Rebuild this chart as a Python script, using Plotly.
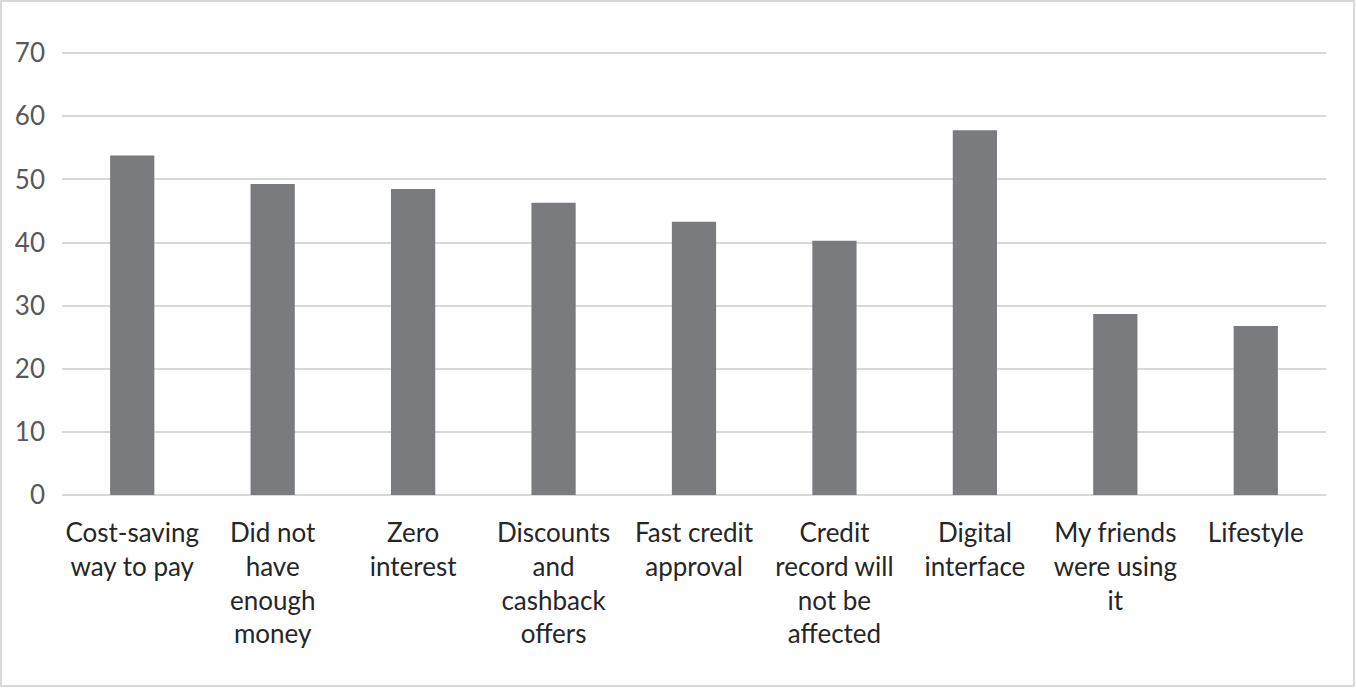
import plotly.graph_objects as go

# reasons for using the service (x labels) and share of respondents
reasons = [
    "Cost-saving<br>way to pay",
    "Did not<br>have<br>enough<br>money",
    "Zero<br>interest",
    "Discounts<br>and<br>cashback<br>offers",
    "Fast credit<br>approval",
    "Credit<br>record will<br>not be<br>affected",
    "Digital<br>interface",
    "My friends<br>were using<br>it",
    "Lifestyle",
]
values = [53.8, 49.3, 48.5, 46.3, 43.3, 40.3, 57.8, 28.7, 26.8]
y_ticks = [0, 10, 20, 30, 40, 50, 60, 70]

W, H = 1356, 688
ml, mr, mt, mb = 62, 30, 52, 193

fig = go.Figure(go.Bar(x=reasons, y=values, marker_color="#7a7b7f",
                       marker_line_width=0, hoverinfo="y"))

fig.update_layout(
    width=W, height=H,
    margin=dict(l=ml, r=mr, t=mt, b=mb),
    plot_bgcolor="white", paper_bgcolor="white",
    bargap=0.685,
    showlegend=False,
    font=dict(family="Lato, Open Sans, sans-serif", size=26, color="#262626"),
)
fig.update_xaxes(showgrid=False, showline=False, ticks="", tickangle=0,
                 ticklabelstandoff=20, tickfont=dict(size=26, color="#262626"))
# top of range a touch above 70 so the 70 gridline is drawn
fig.update_yaxes(range=[0, 70.2], tickvals=y_ticks, showgrid=True,
                 gridcolor="#d9d9d9", gridwidth=1.5, zeroline=True,
                 zerolinecolor="#d9d9d9", zerolinewidth=1.5, showline=False,
                 ticks="", ticklabelstandoff=16,
                 tickfont=dict(size=26, color="#595959"))

# light frame around the whole chart
pw, ph = W - ml - mr, H - mt - mb
fig.add_shape(type="rect", xref="paper", yref="paper",
              x0=-(ml - 1) / pw, x1=1 + (mr - 2) / pw,
              y0=-(mb - 2) / ph, y1=1 + (mt - 1) / ph,
              line=dict(color="#d9d9d9", width=2), layer="below")

# drop the page margin so the chart sits at the window corner
fig.write_html("out.html", config={"displayModeBar": False},
               post_script="document.body.style.margin='0';")
